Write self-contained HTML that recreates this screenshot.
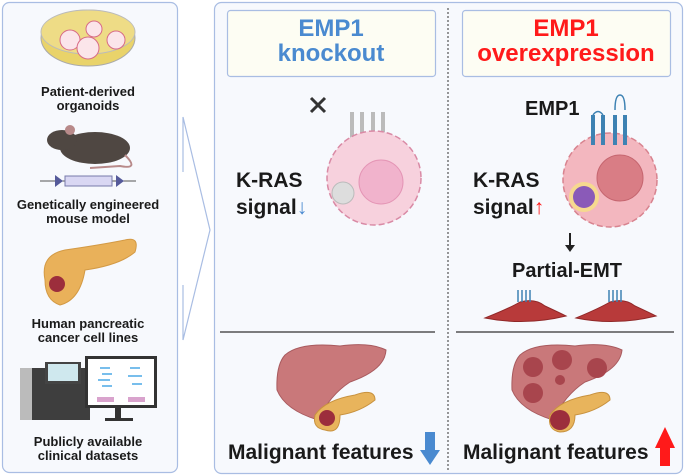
<!DOCTYPE html>
<html><head><style>
body{margin:0;width:685px;height:476px;background:#fff;overflow:hidden;position:relative;font-family:"Liberation Sans",sans-serif;font-weight:bold;}
.t{position:absolute;text-align:center;color:#1a1a1a;white-space:nowrap;}
svg{position:absolute;left:0;top:0;}
</style></head><body>
<svg width="685" height="476" viewBox="0 0 685 476">
<rect x="2.5" y="2.5" width="175" height="470" rx="7" fill="#f7f9fd" stroke="#a9bde3" stroke-width="1.2"/>
<rect x="214.5" y="2.5" width="468" height="471" rx="7" fill="#f7f9fd" stroke="#a9bde3" stroke-width="1.2"/>
<polyline points="183,172 183,117 210,230 183,340 183,285" fill="none" stroke="#a9bde3" stroke-width="1.2"/>
<rect x="227.5" y="10.5" width="208" height="66" rx="3" fill="#fdfdf3" stroke="#a9bde3" stroke-width="1.2"/>
<rect x="462.5" y="10.5" width="208" height="66" rx="3" fill="#fdfdf3" stroke="#a9bde3" stroke-width="1.2"/>
<line x1="448" y1="8" x2="448" y2="472" stroke="#333" stroke-width="1" stroke-dasharray="2,2"/>
<line x1="220" y1="332" x2="435" y2="332" stroke="#333" stroke-width="1.2"/>
<line x1="456" y1="332" x2="674" y2="332" stroke="#333" stroke-width="1.2"/>
<!-- petri dish -->
<ellipse cx="88" cy="38" rx="47" ry="28" fill="#e9d36a" stroke="#aaa"/>
<ellipse cx="88" cy="32" rx="47" ry="22" fill="#eedc86" stroke="#bbb"/>
<circle cx="70" cy="40" r="10" fill="#fbe5ea" stroke="#d86b86"/>
<circle cx="94" cy="29" r="8" fill="#fbe5ea" stroke="#d86b86"/>
<circle cx="88" cy="48" r="11" fill="#fbe5ea" stroke="#d86b86"/>
<circle cx="116" cy="40" r="9" fill="#fbe5ea" stroke="#d86b86"/>
<!-- mouse -->
<ellipse cx="95" cy="148" rx="35" ry="16" fill="#4f4742"/>
<ellipse cx="62" cy="140" rx="15" ry="10" fill="#4f4742"/>
<circle cx="70" cy="130" r="5" fill="#b88a8a"/>
<path d="M125 155 Q140 170 120 166 L90 168" fill="none" stroke="#b88a8a" stroke-width="2"/>
<line x1="40" y1="181" x2="136" y2="181" stroke="#555"/>
<polygon points="55,175 63,181 55,187" fill="#555a9a"/>
<rect x="65" y="176" width="47" height="10" fill="#d9d7f3" stroke="#777aaa"/>
<polygon points="116,175 124,181 116,187" fill="#555a9a"/>
<!-- pancreas -->
<path d="M45 280 Q40 255 65 250 Q100 245 125 240 Q140 236 135 252 Q120 265 85 270 Q80 300 60 305 Q45 300 45 280Z" fill="#e9b15a" stroke="#d39a45"/>
<circle cx="57" cy="284" r="8" fill="#9c2e3c"/>
<!-- computer -->
<rect x="20" y="368" width="70" height="52" fill="#3e3e3e"/>
<rect x="20" y="368" width="12" height="52" fill="#bbb"/>
<rect x="45" y="362" width="36" height="22" fill="#444"/>
<rect x="48" y="364" width="30" height="17" fill="#cfe8ee"/>
<rect x="85" y="356" width="72" height="52" fill="#333"/>
<rect x="88" y="359" width="66" height="46" fill="#fff"/>
<rect x="115" y="408" width="6" height="10" fill="#333"/>
<rect x="105" y="418" width="28" height="3" fill="#333"/>
<rect x="97" y="397" width="17" height="5" fill="#d9a3cd"/><rect x="128" y="397" width="17" height="5" fill="#d9a3cd"/>
<g stroke="#4aa8e6" stroke-width="1.5"><line x1="100" y1="368" x2="110" y2="368"/><line x1="102" y1="374" x2="112" y2="374"/><line x1="98" y1="380" x2="110" y2="380"/><line x1="102" y1="386" x2="112" y2="386"/><line x1="130" y1="368" x2="140" y2="368"/><line x1="128" y1="376" x2="142" y2="376"/><line x1="132" y1="384" x2="142" y2="384"/></g>
<!-- left cell -->
<g stroke="#bbb" stroke-width="4" fill="none"><line x1="352" y1="112" x2="352" y2="138"/><line x1="362" y1="112" x2="362" y2="138"/><line x1="373" y1="112" x2="373" y2="138"/><line x1="383" y1="112" x2="383" y2="138"/></g>
<circle cx="374" cy="178" r="47" fill="#f7d1dd" stroke="#d98aa5" stroke-width="1.5" stroke-dasharray="6,3"/>
<circle cx="381" cy="182" r="22" fill="#f1b3cc" stroke="#e495b5"/>
<circle cx="343" cy="193" r="11" fill="#ddd" stroke="#bbb"/>
<path d="M311 98 L325 112 M325 98 L311 112" stroke="#333" stroke-width="3"/>
<!-- right cell -->
<circle cx="610" cy="180" r="47" fill="#f3b7bf" stroke="#d8838f" stroke-width="1.5" stroke-dasharray="6,3"/>
<circle cx="620" cy="178" r="23" fill="#d97d85" stroke="#c5656f"/>
<circle cx="584" cy="197" r="15" fill="#f6e77a" opacity="0.7"/>
<circle cx="584" cy="197" r="11" fill="#8a5ab8"/>
<g stroke="#3d82b3" stroke-width="4" fill="none"><line x1="593" y1="115" x2="593" y2="145"/><line x1="603" y1="115" x2="603" y2="145"/><line x1="615" y1="115" x2="615" y2="145"/><line x1="625" y1="115" x2="625" y2="145"/></g>
<path d="M593 115 Q598 108 603 115 M615 110 Q615 95 620 95 Q625 95 625 110" fill="none" stroke="#3d82b3" stroke-width="1.5"/>
<line x1="570" y1="233" x2="570" y2="247" stroke="#222" stroke-width="2"/><polygon points="565,245 575,245 570,252" fill="#222"/>
<!-- EMT cells -->
<path d="M485 318 Q510 308 520 302 Q535 298 545 306 Q560 313 566 316 Q525 326 485 318Z" fill="#b83a3a" stroke="#902828"/>
<path d="M576 318 Q600 308 610 302 Q625 298 635 306 Q650 313 656 316 Q615 326 576 318Z" fill="#b83a3a" stroke="#902828"/>
<g stroke="#3d82b3" stroke-width="1.5"><line x1="518" y1="302" x2="518" y2="290"/><line x1="522" y1="302" x2="522" y2="290"/><line x1="526" y1="302" x2="526" y2="290"/><line x1="530" y1="302" x2="530" y2="290"/><line x1="609" y1="302" x2="609" y2="290"/><line x1="613" y1="302" x2="613" y2="290"/><line x1="617" y1="302" x2="617" y2="290"/><line x1="621" y1="302" x2="621" y2="290"/></g>
<!-- livers -->
<path d="M285 355 Q300 342 340 346 Q370 342 386 350 Q385 370 350 382 Q330 395 318 420 Q285 410 277 390 Q276 365 285 355Z" fill="#c9787a" stroke="#a85a5e"/>
<path d="M315 415 Q325 400 355 395 Q375 388 375 400 Q360 412 340 415 Q340 435 325 430 Q312 428 315 415Z" fill="#e8b45c" stroke="#c8923f"/>
<circle cx="327" cy="418" r="8" fill="#9c2e3c"/>
<path d="M520 355 Q535 342 575 346 Q605 342 622 350 Q620 370 585 382 Q565 395 553 420 Q520 410 512 390 Q511 365 520 355Z" fill="#c9787a" stroke="#a85a5e"/>
<g fill="#a8454d"><circle cx="533" cy="367" r="10"/><circle cx="562" cy="360" r="10"/><circle cx="597" cy="368" r="10"/><circle cx="533" cy="393" r="10"/><circle cx="560" cy="380" r="5"/></g>
<path d="M550 415 Q560 400 590 395 Q610 388 610 400 Q595 412 575 415 Q575 432 560 432 Q547 430 550 415Z" fill="#e8b45c" stroke="#c8923f"/>
<circle cx="560" cy="420" r="10" fill="#9c2e3c"/>
<!-- big arrows -->
<polygon points="425,432 435,432 435,450 440,450 430,465 420,450 425,450" fill="#4a8ad0"/>
<polygon points="660,466 670,466 670,448 675,448 665,427 655,448 660,448" fill="#ff1a1a"/>
</svg>
<div class="t" style="left:10px;top:85px;width:156px;font-size:13px;line-height:14px">Patient-derived<br>organoids</div>
<div class="t" style="left:5px;top:198px;width:166px;font-size:13px;line-height:14px">Genetically engineered<br>mouse model</div>
<div class="t" style="left:5px;top:317px;width:166px;font-size:13px;line-height:14px">Human pancreatic<br>cancer cell lines</div>
<div class="t" style="left:5px;top:435px;width:166px;font-size:13px;line-height:14px">Publicly available<br>clinical datasets</div>
<div class="t" style="left:227px;top:16px;width:208px;font-size:24px;line-height:25px;color:#4a8ad0">EMP1<br>knockout</div>
<div class="t" style="left:462px;top:16px;width:208px;font-size:24px;line-height:25px;color:#ff1a1a">EMP1<br>overexpression</div>
<div class="t" style="left:236px;top:167px;text-align:left;font-size:21px;line-height:27px">K-RAS<br>signal<span style="color:#4a8ad0">↓</span></div>
<div class="t" style="left:473px;top:167px;text-align:left;font-size:21px;line-height:27px">K-RAS<br>signal<span style="color:#ff1a1a">↑</span></div>
<div class="t" style="left:525px;top:98px;font-size:20px">EMP1</div>
<div class="t" style="left:512px;top:260px;font-size:20px">Partial-EMT</div>
<div class="t" style="left:228px;top:441px;font-size:21px">Malignant features</div>
<div class="t" style="left:463px;top:441px;font-size:21px">Malignant features</div>
</body></html>
